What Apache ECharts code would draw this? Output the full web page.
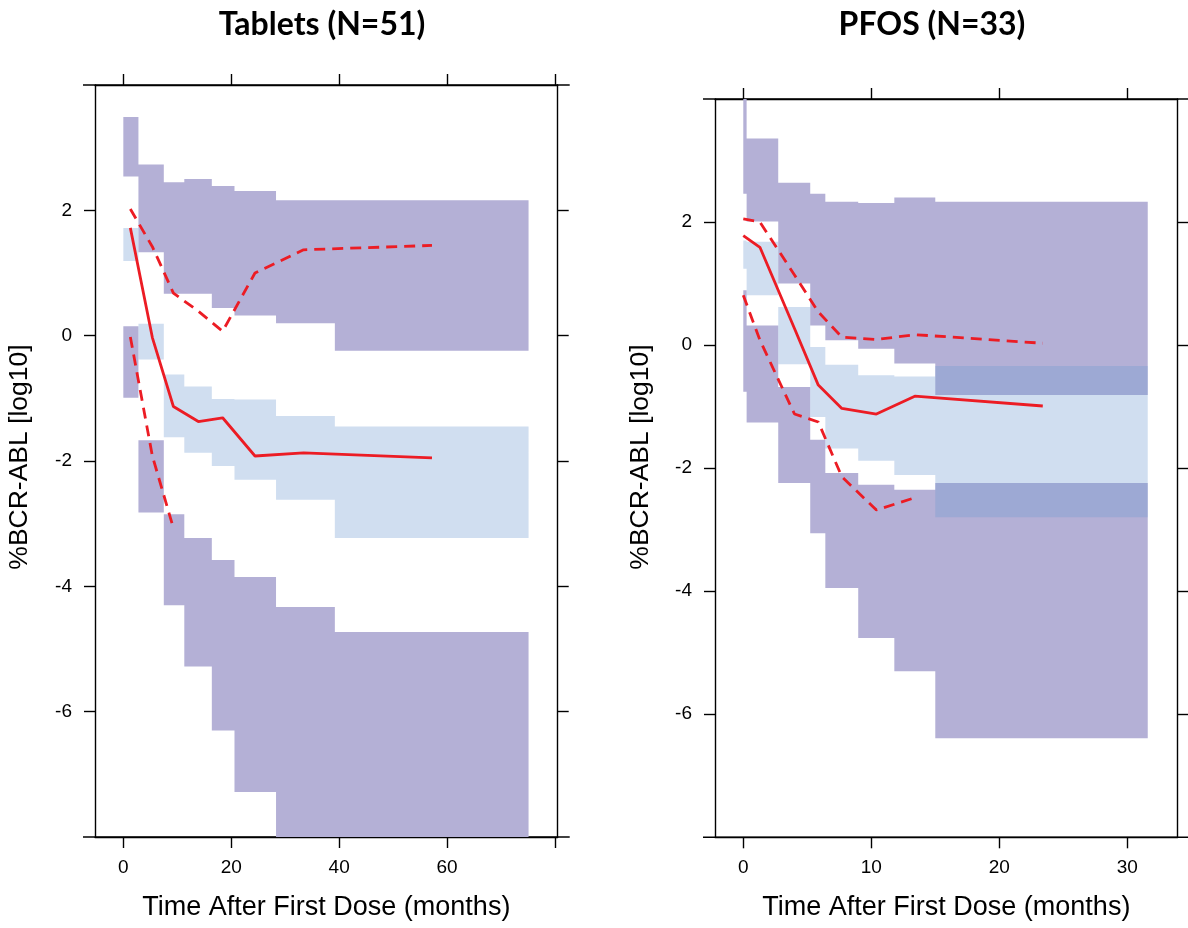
<!DOCTYPE html>
<html>
<head>
<meta charset="utf-8">
<script src="https://cdn.jsdelivr.net/npm/echarts@6/dist/echarts.min.js"></script>
<style>
  html, body { margin: 0; padding: 0; background: #fff; }
  #chart { width: 1188px; height: 928px; }
</style>
</head>
<body>
<div id="chart"></div>
<script>
// ---- Tablets (N=51): time bins (months) and simulated prediction intervals (log10 %BCR-ABL)
const tabBinEdges = [0, 2.8, 7.5, 11.3, 16.4, 20.6, 28.3, 39.2, 75.1];
const tabUpperHi  = [3.49, 2.73, 2.45, 2.50, 2.39, 2.31, 2.16, 2.16];
const tabUpperLo  = [2.54, 1.33, 0.67, 0.67, 0.44, 0.32, 0.20, -0.24];
const tabMedHi    = [1.72, 0.19, -0.62, -0.81, -1.01, -1.02, -1.28, -1.45];
const tabMedLo    = [1.19, -0.38, -1.62, -1.87, -2.08, -2.30, -2.62, -3.23];
const tabLowHi    = [0.15, -1.67, -2.85, -3.23, -3.58, -3.85, -4.33, -4.73];
const tabLowLo    = [-0.99, -2.82, -4.30, -5.28, -6.30, -7.28, -8.40, -8.40];
// observed percentiles per bin
const tabTime     = [1.3, 5.38, 9.28, 13.9, 18.4, 24.4, 33.4, 57.2];
const tabObsMed   = [1.72, -0.03, -1.13, -1.37, -1.31, -1.92, -1.87, -1.95];
const tabObsHi    = [2.02, 1.42, 0.68, 0.39, 0.07, 1.00, 1.37, 1.44];
const tabObsLo    = [-0.02, -1.92, -3.07];

// ---- PFOS (N=33)
const pfBinEdges  = [0, 0.26, 2.73, 5.23, 6.41, 8.98, 11.8, 15.0, 31.6];
const pfUpperHi   = [4.30, 3.36, 2.64, 2.46, 2.33, 2.31, 2.40, 2.33];
const pfUpperLo   = [2.46, 2.01, 1.00, 0.32, 0.08, -0.06, -0.30, -0.81];
const pfMedHi     = [1.70, 1.68, 0.62, -0.03, -0.32, -0.49, -0.51, -0.34];
const pfMedLo     = [1.24, 0.81, -0.31, -1.17, -1.68, -1.88, -2.11, -2.80];
const pfLowHi     = [0.89, 0.32, -0.68, -1.54, -2.08, -2.27, -2.35, -2.24];
const pfLowLo     = [-0.76, -1.26, -2.24, -3.06, -3.95, -4.76, -5.30, -6.39];
const pfTime      = [0, 1.3, 4.0, 5.86, 7.7, 10.4, 13.4, 23.4];
const pfObsMed    = [1.78, 1.59, 0.27, -0.65, -1.03, -1.12, -0.83, -0.99];
const pfObsHi     = [2.05, 2.00, 1.14, 0.54, 0.13, 0.09, 0.17, 0.03];
const pfObsLo     = [0.81, 0.08, -1.12, -1.25, -2.14, -2.68, -2.48];

// ---- axis ticks and labels
const tabXTicks  = [0, 20, 40, 60, 80];
const tabXLabels = [0, 20, 40, 60];
const pfXTicks   = [0, 10, 20, 30];
const pfXLabels  = [0, 10, 20, 30];
const yTicks     = [-6, -4, -2, 0, 2];
const yLabels    = [-6, -4, -2, 0, 2];

const panelTitles = ['Tablets (N=51)', 'PFOS (N=33)'];
const xTitle = 'Time After First Dose (months)';
const yTitle = '%BCR-ABL [log10]';

// ---- layout and styles
const panels = [
  { left: 95,  top: 85, width: 462.7, height: 752, xMin: -5.25, xMax: 80.5, titleX: 322, yTitleX: 20 },
  { left: 715, top: 99, width: 462.7, height: 738.3, xMin: -2.21, xMax: 33.94, titleX: 932, yTitleX: 641 }
];
const Y_MIN = -8, Y_MAX = 4;
const DARK = 'rgb(180,176,214)';
const LIGHT = 'rgba(113,155,210,0.33)';
const RED = '#EC1C24';
const AXIS_FONT = '"Liberation Sans", Arial, sans-serif';
const axisLineStyle = { color: '#000', width: 1.4 };

function clampY(v) { return Math.min(Math.max(v, Y_MIN), Y_MAX); }
function pairs(xs, ys) { return ys.map((v, i) => [xs[i], v]); }

// One stepped polygon per interval band: top edge left to right, bottom edge back.
function bandSeries(idx, edges, lo, hi, color) {
  return {
    type: 'custom', xAxisIndex: idx * 2, yAxisIndex: idx * 2, clip: true, silent: true,
    z: 1,
    encode: { x: 0, y: 1 },
    data: [[edges[0], clampY(lo[0])]],
    renderItem: function (params, api) {
      const pts = [];
      for (let i = 0; i < hi.length; i++) {
        pts.push(api.coord([edges[i], clampY(hi[i])]));
        pts.push(api.coord([edges[i + 1], clampY(hi[i])]));
      }
      for (let i = lo.length - 1; i >= 0; i--) {
        pts.push(api.coord([edges[i + 1], clampY(lo[i])]));
        pts.push(api.coord([edges[i], clampY(lo[i])]));
      }
      return { type: 'polygon', shape: { points: pts }, style: { fill: color } };
    }
  };
}
function lineSeries(idx, data, dashed) {
  return {
    type: 'line', xAxisIndex: idx * 2, yAxisIndex: idx * 2, silent: true, z: 5,
    symbol: 'none', data: data,
    lineStyle: { color: RED, width: 2.8, type: dashed ? [11, 7] : 'solid' }
  };
}

function xAxes(idx, ticks, labels) {
  const p = panels[idx];
  const base = {
    gridIndex: idx, type: 'value', min: p.xMin, max: p.xMax,
    splitLine: { show: false },
    axisLine: { show: true, onZero: false, lineStyle: axisLineStyle },
    axisTick: { show: true, inside: false, length: 11, customValues: ticks, lineStyle: axisLineStyle }
  };
  return [
    Object.assign({}, base, {
      position: 'bottom',
      axisLabel: { show: true, customValues: labels, margin: 21, fontSize: 19, color: '#000', fontFamily: AXIS_FONT }
    }),
    Object.assign({}, base, { position: 'top', axisLabel: { show: false } })
  ];
}
function yAxes(idx) {
  const base = {
    gridIndex: idx, type: 'value', min: Y_MIN, max: Y_MAX,
    splitLine: { show: false },
    axisLine: { show: true, onZero: false, lineStyle: axisLineStyle },
    axisTick: { show: true, inside: false, length: 11, customValues: yTicks, lineStyle: axisLineStyle }
  };
  return [
    Object.assign({}, base, {
      position: 'left',
      axisLabel: { show: true, customValues: yLabels, margin: 23, fontSize: 19, color: '#000', fontFamily: AXIS_FONT }
    }),
    Object.assign({}, base, { position: 'right', axisLabel: { show: false } })
  ];
}

// frame extensions and titles drawn as graphic elements
const graphics = [];
panels.forEach((p, i) => {
  const right = p.left + p.width, bottom = p.top + p.height;
  [p.top, bottom].forEach(yy => graphics.push({
    type: 'line', silent: true,
    shape: { x1: p.left - 12, y1: yy, x2: right + 12, y2: yy },
    style: { stroke: '#000', lineWidth: 1.4 }
  }));
  const cx = p.left + p.width / 2;
  graphics.push({
    type: 'text', x: p.titleX, y: 25, silent: true,
    style: { text: panelTitles[i], font: 'bold 32px Lato, "Open Sans", sans-serif', fill: '#000',
             align: 'center', verticalAlign: 'middle', textAlign: 'center', textVerticalAlign: 'middle' }
  });
  graphics.push({
    type: 'text', x: cx, y: 908, silent: true,
    style: { text: xTitle, font: '27px "Liberation Sans", Arial, sans-serif', fill: '#000',
             align: 'center', verticalAlign: 'middle', textAlign: 'center', textVerticalAlign: 'middle' }
  });
  graphics.push({
    type: 'text', x: p.yTitleX, y: 457, rotation: Math.PI / 2, silent: true,
    style: { text: yTitle, font: '26.5px "Liberation Sans", Arial, sans-serif', fill: '#000',
             align: 'center', verticalAlign: 'middle', textAlign: 'center', textVerticalAlign: 'middle' }
  });
});

const option = {
  animation: false,
  backgroundColor: '#fff',
  grid: panels.map(p => ({ left: p.left, top: p.top, width: p.width, height: p.height, containLabel: false })),
  xAxis: [...xAxes(0, tabXTicks, tabXLabels), ...xAxes(1, pfXTicks, pfXLabels)],
  yAxis: [...yAxes(0), ...yAxes(1)],
  graphic: graphics,
  series: [
    bandSeries(0, tabBinEdges, tabUpperLo, tabUpperHi, DARK),
    bandSeries(0, tabBinEdges, tabLowLo, tabLowHi, DARK),
    bandSeries(0, tabBinEdges, tabMedLo, tabMedHi, LIGHT),
    lineSeries(0, pairs(tabTime, tabObsMed), false),
    lineSeries(0, pairs(tabTime, tabObsHi), true),
    lineSeries(0, pairs(tabTime, tabObsLo), true),
    bandSeries(1, pfBinEdges, pfUpperLo, pfUpperHi, DARK),
    bandSeries(1, pfBinEdges, pfLowLo, pfLowHi, DARK),
    bandSeries(1, pfBinEdges, pfMedLo, pfMedHi, LIGHT),
    lineSeries(1, pairs(pfTime, pfObsMed), false),
    lineSeries(1, pairs(pfTime, pfObsHi), true),
    lineSeries(1, pairs(pfTime, pfObsLo), true)
  ]
};

const chart = echarts.init(document.getElementById('chart'), null, { renderer: 'canvas' });
chart.setOption(option);
</script>
</body>
</html>
